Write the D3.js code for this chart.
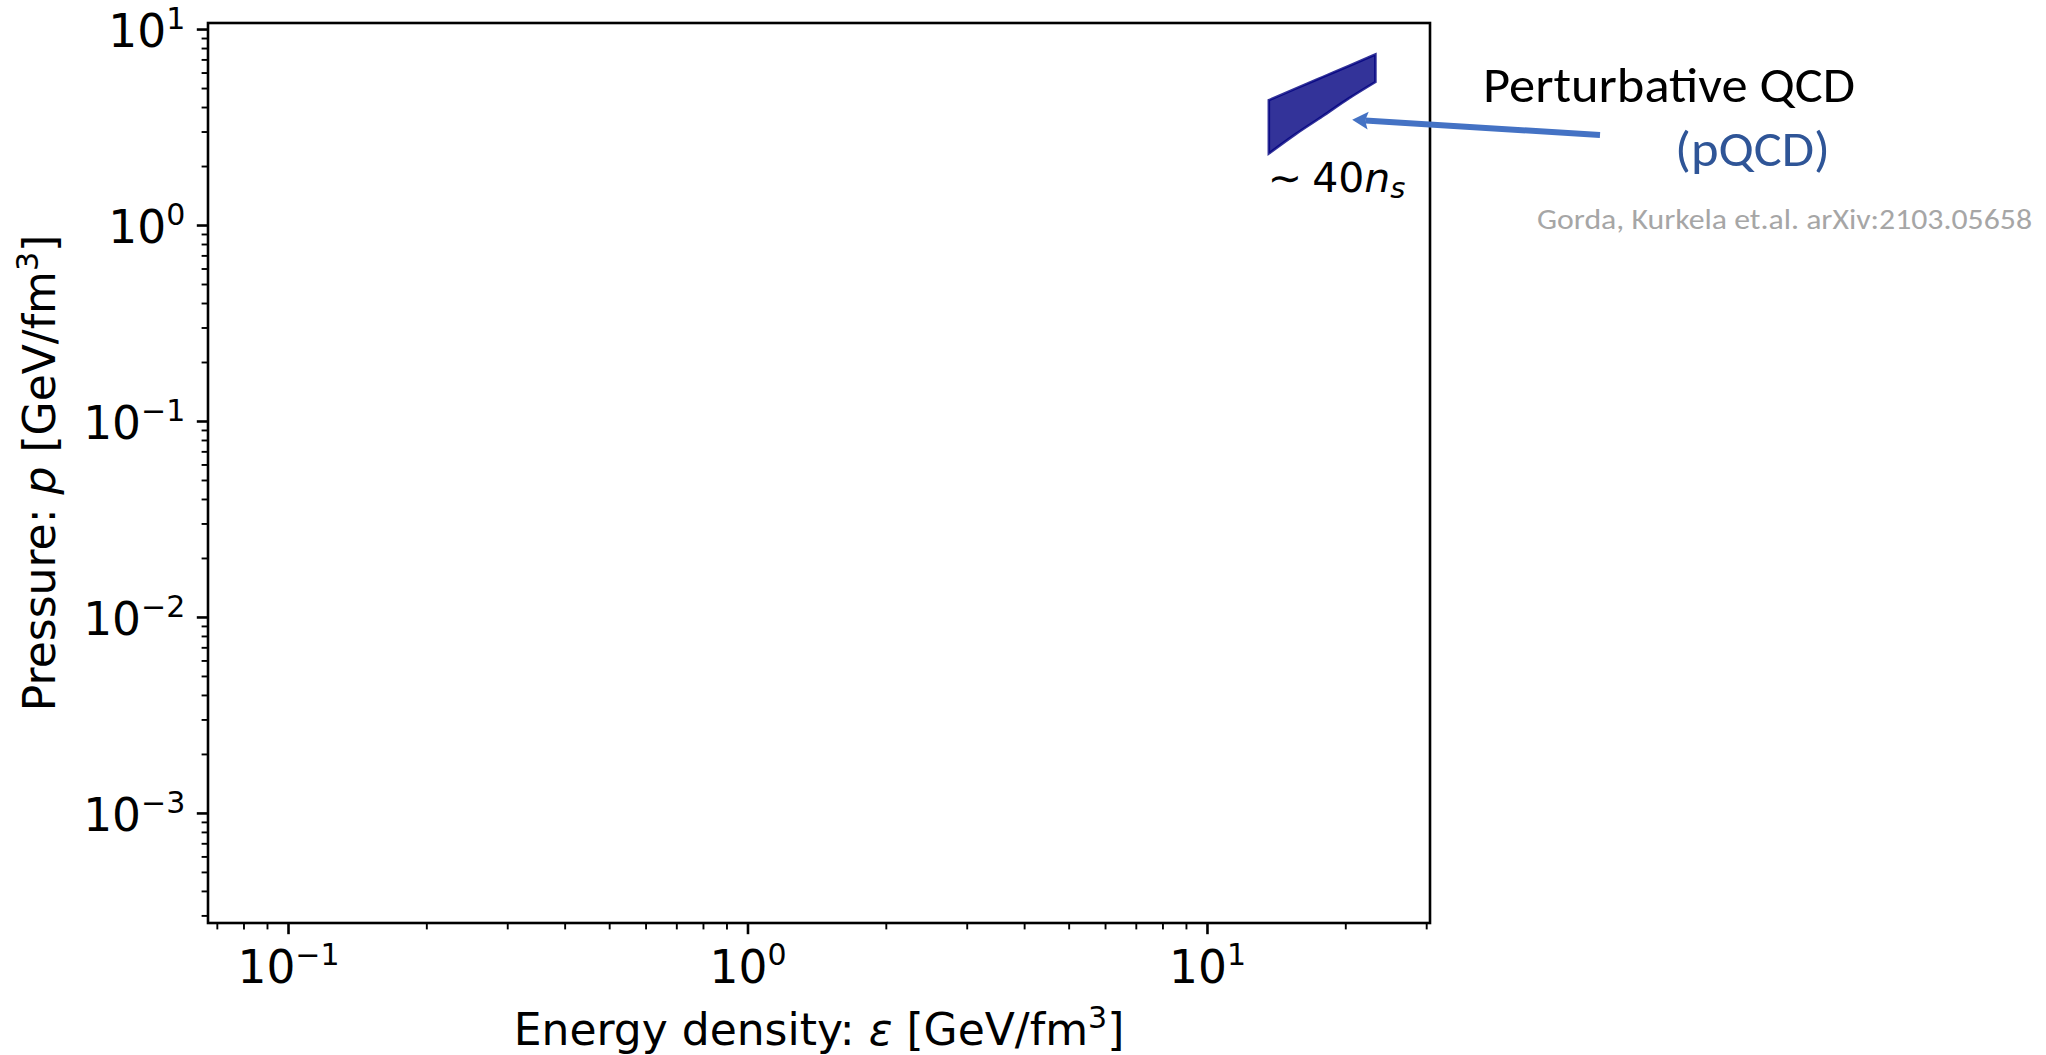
<!DOCTYPE html>
<html>
<head>
<meta charset="utf-8">
<script src="https://cdn.jsdelivr.net/npm/d3@7"></script>
<style>
  html, body { margin: 0; padding: 0; background: #ffffff; }
  svg { display: block; }
</style>
</head>
<body>
<svg id="chart" width="2046" height="1055"></svg>
<script>
// pQCD band at high density: energy density and pressure bounds, GeV/fm^3
const bandEps   = [13.6, 15.5, 17.8, 20.3, 23.2];
const bandPLow  = [2.33, 2.91, 3.61, 4.45, 5.40];
const bandPHigh = [4.36, 4.98, 5.72, 6.52, 7.46];

// axis ranges and labelled decades
const xDomain = [0.0668, 30.5];
const yDomain = [2.76e-4, 10.8];
const xMajorTicks = [0.1, 1, 10];
const yMajorTicks = [1e-3, 1e-2, 1e-1, 1, 10];

// density marker placed under the band, and the annotation arrow target
const nsLabel = { eps: 13.6, p: 1.48 };
const arrowTip = { eps: 20.65, p: 3.47 };

const W = 2046, H = 1055;
const plot = { left: 208, right: 1430, top: 23, bottom: 923 };

const svg = d3.select("#chart");
svg.append("rect").attr("width", W).attr("height", H).attr("fill", "#ffffff");

const x = d3.scaleLog().domain(xDomain).range([plot.left, plot.right]);
const y = d3.scaleLog().domain(yDomain).range([plot.bottom, plot.top]);

const AX_FONT = "'DejaVu Sans', sans-serif";
const SLIDE_FONT = "Carlito, Calibri, Lato, sans-serif";

// rich text helper: parts = [{t, italic, sup, sub}]
function rich(textSel, parts, size, supSize, supRise) {
  let shift = 0;
  parts.forEach(p => {
    const ts = textSel.append("tspan").text(p.t);
    let target = 0;
    if (p.sup) target = -supRise;
    if (p.sub) target = p.sub;
    ts.attr("dy", target - shift);
    shift = target;
    ts.attr("font-size", (p.sup || p.sub) ? supSize : size);
    if (p.italic) ts.attr("font-style", "italic");
    if (p.dx) ts.attr("dx", p.dx);
  });
  return textSel;
}

function expParts(v) {
  const e = Math.round(Math.log10(v));
  const s = e < 0 ? "\u2212" + Math.abs(e) : String(e);
  return [{ t: "10" }, { t: s, sup: true }];
}

// ---- band ----
const bandData = bandEps.map((e, i) => ({ e, lo: bandPLow[i], hi: bandPHigh[i] }));
const area = d3.area()
  .curve(d3.curveMonotoneX)
  .x(d => x(d.e))
  .y0(d => y(d.lo))
  .y1(d => y(d.hi));
svg.append("path")
  .datum(bandData)
  .attr("d", area)
  .attr("fill", "navy")
  .attr("fill-opacity", 0.8)
  .attr("stroke", "navy")
  .attr("stroke-opacity", 0.8)
  .attr("stroke-width", 2.6)
  .attr("stroke-linejoin", "miter");

// ---- ticks ----
const MAJ_LEN = 11.2, MIN_LEN = 6.4, MAJ_W = 2.6, MIN_W = 1.9;
const isMajor = v => Math.abs(Math.log10(v) - Math.round(Math.log10(v))) < 1e-9;

const gTicks = svg.append("g").attr("stroke", "#000");
const xt = x.ticks(20).filter(v => v >= xDomain[0] && v <= xDomain[1]);
gTicks.selectAll("line.xt").data(xt).join("line")
  .attr("x1", d => x(d)).attr("x2", d => x(d))
  .attr("y1", plot.bottom).attr("y2", d => plot.bottom + (isMajor(d) ? MAJ_LEN : MIN_LEN))
  .attr("stroke-width", d => isMajor(d) ? MAJ_W : MIN_W);

const yt = y.ticks(20).filter(v => v >= yDomain[0] && v <= yDomain[1]);
gTicks.selectAll("line.yt").data(yt).join("line")
  .attr("y1", d => y(d)).attr("y2", d => y(d))
  .attr("x1", plot.left).attr("x2", d => plot.left - (isMajor(d) ? MAJ_LEN : MIN_LEN))
  .attr("stroke-width", d => isMajor(d) ? MAJ_W : MIN_W);

// ---- frame ----
svg.append("rect")
  .attr("x", plot.left).attr("y", plot.top)
  .attr("width", plot.right - plot.left).attr("height", plot.bottom - plot.top)
  .attr("fill", "none").attr("stroke", "#000").attr("stroke-width", 2.6);

// ---- tick labels ----
const TICK_SIZE = 45.5, TICK_SUP = 30, TICK_RISE = 17.7;
xMajorTicks.forEach(v => {
  const t = svg.append("text")
    .attr("x", x(v)).attr("y", 982.7)
    .attr("text-anchor", "middle")
    .attr("font-family", AX_FONT).attr("fill", "#000");
  rich(t, expParts(v), TICK_SIZE, TICK_SUP, TICK_RISE);
});
yMajorTicks.forEach(v => {
  const t = svg.append("text")
    .attr("x", plot.left - MAJ_LEN - 11.5).attr("y", y(v) + 17.6)
    .attr("text-anchor", "end")
    .attr("font-family", AX_FONT).attr("fill", "#000");
  rich(t, expParts(v), TICK_SIZE, TICK_SUP, TICK_RISE);
});

// ---- axis titles ----
const LBL_SIZE = 44, LBL_SUP = 30, LBL_RISE = 17;
const xl = svg.append("text")
  .attr("x", (plot.left + plot.right) / 2).attr("y", 1045)
  .attr("text-anchor", "middle")
  .attr("font-family", AX_FONT).attr("fill", "#000");
rich(xl, [
  { t: "Energy density: " }, { t: "\u03b5", italic: true },
  { t: " [GeV/fm" }, { t: "3", sup: true }, { t: "]" }
], LBL_SIZE, LBL_SUP, LBL_RISE);

const yl = svg.append("text")
  .attr("transform", `translate(55, ${(plot.top + plot.bottom) / 2}) rotate(-90)`)
  .attr("text-anchor", "middle")
  .attr("font-family", AX_FONT).attr("fill", "#000");
rich(yl, [
  { t: "Pressure: " }, { t: "p", italic: true },
  { t: " [GeV/fm" }, { t: "3", sup: true }, { t: "]" }
], LBL_SIZE, LBL_SUP, LBL_RISE);

// ---- density marker ----
const ns = svg.append("text")
  .attr("x", x(nsLabel.eps) - 1).attr("y", y(nsLabel.p))
  .attr("font-family", AX_FONT).attr("fill", "#000");
rich(ns, [
  { t: "\u223c" }, { t: "40", dx: 10 }, { t: "n", italic: true },
  { t: "s", italic: true, sub: 6 }
], 41, 29, 0);

// ---- annotation: arrow and slide text ----
const tail = [1600, 135];
const tip = [x(arrowTip.eps), y(arrowTip.p)];
const dxA = tip[0] - tail[0], dyA = tip[1] - tail[1];
const len = Math.hypot(dxA, dyA);
const u = [dxA / len, dyA / len];
const n = [-u[1], u[0]];
const headLen = 16, headHalf = 9, notch = 3;
const base = [tip[0] - u[0] * headLen, tip[1] - u[1] * headLen];
const ARROW = "#4472C4";
svg.append("line")
  .attr("x1", tail[0]).attr("y1", tail[1])
  .attr("x2", base[0] + u[0] * notch).attr("y2", base[1] + u[1] * notch)
  .attr("stroke", ARROW).attr("stroke-width", 6);
svg.append("path")
  .attr("d", d3.line()([
    tip,
    [base[0] + n[0] * headHalf, base[1] + n[1] * headHalf],
    [base[0] + u[0] * notch, base[1] + u[1] * notch],
    [base[0] - n[0] * headHalf, base[1] - n[1] * headHalf]
  ]) + "Z")
  .attr("fill", ARROW);

svg.append("text")
  .attr("x", 1483).attr("y", 102)
  .attr("font-family", SLIDE_FONT).attr("font-size", 50)
  .attr("textLength", 372).attr("lengthAdjust", "spacingAndGlyphs")
  .attr("fill", "#000")
  .text("Perturbative QCD");

svg.append("text")
  .attr("x", 1675).attr("y", 166)
  .attr("font-family", SLIDE_FONT).attr("font-size", 50)
  .attr("textLength", 155).attr("lengthAdjust", "spacingAndGlyphs")
  .attr("fill", "#2F5597")
  .text("(pQCD)");

svg.append("text")
  .attr("x", 1537).attr("y", 229)
  .attr("font-family", SLIDE_FONT).attr("font-size", 29)
  .attr("textLength", 495).attr("lengthAdjust", "spacingAndGlyphs")
  .attr("fill", "#A6A6A6")
  .text("Gorda, Kurkela et.al. arXiv:2103.05658");
</script>
</body>
</html>
